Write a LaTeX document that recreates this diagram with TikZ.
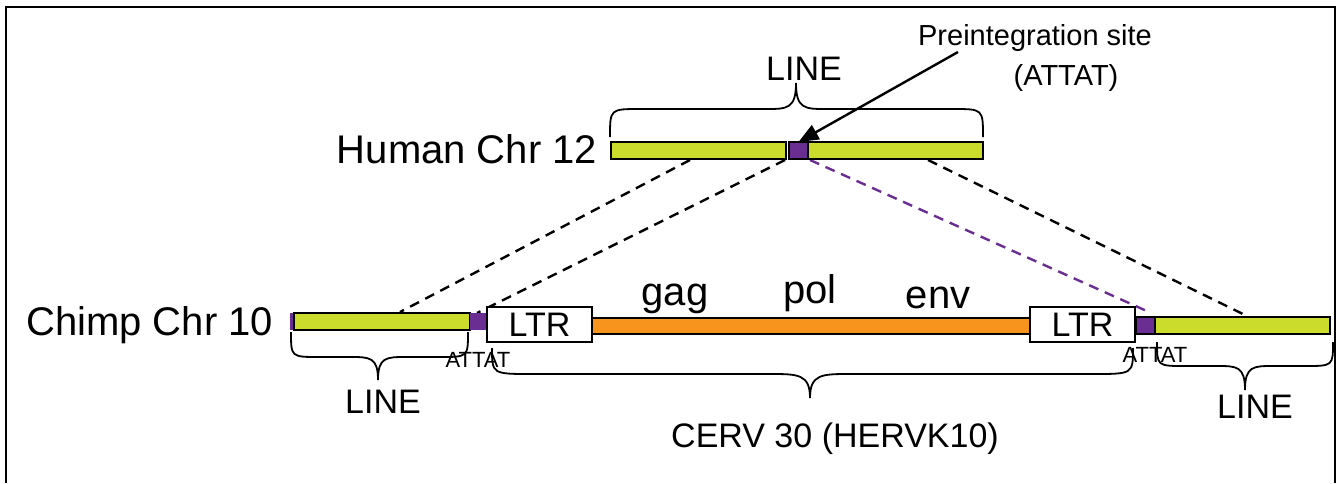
\documentclass[tikz,border=0pt]{standalone}
\usepackage{fontspec}
\setmainfont{Liberation Sans}
\usetikzlibrary{arrows.meta}
\definecolor{lgreen}{HTML}{CCDC2C}
\definecolor{vpurple}{HTML}{6A2E92}
\definecolor{orng}{HTML}{F7941E}
\newcommand\drawbrace[7]{%
  \draw[bracel] (#1,#3) .. controls (#1,#4) and (#1,#4) .. ({#1+#7},#4) -- ({#6-#7},#4)
    .. controls ({#6-0.3*#7},#4) and (#6,#4) .. (#6,#5)
    .. controls (#6,#4) and ({#6+0.3*#7},#4) .. ({#6+#7},#4) -- ({#2-#7},#4)
    .. controls (#2,#4) and (#2,#4) .. (#2,#3);}
\tikzset{
  segbox/.style={draw=black, line width=1.8pt, inner sep=0pt, outer sep=0pt},
  green/.style={segbox, fill=lgreen},
  purp/.style={segbox, fill=vpurple},
  ltrbox/.style={segbox, fill=white, font=\fontsize{34}{40}\selectfont},
  lbl/.style={inner sep=0pt, outer sep=0pt, anchor=base},
  big/.style={lbl, font=\fontsize{40}{48}\selectfont},
  mid/.style={lbl, font=\fontsize{34}{40}\selectfont},
  small/.style={lbl, font=\fontsize{22}{26}\selectfont},
  note/.style={lbl, font=\fontsize{29}{34}\selectfont},
  bracel/.style={draw=black, line width=1.8pt},
  dashl/.style={draw=black, line width=2.4pt, dash pattern=on 10pt off 7pt},
}
\begin{document}
\begin{tikzpicture}[x=1pt,y=-1pt]
\useasboundingbox (0,0) rectangle (1336,483);
% frame
\draw[line width=2pt] (6,483) -- (6,7) -- (1335,7) -- (1335,483);

% dashed connectors (behind bars)
\coordinate (h1) at (690,160);
\coordinate (h2) at (785,160);
\coordinate (h3) at (810,160);
\coordinate (h4) at (928,160);
\coordinate (c1) at (400,312);
\coordinate (c2) at (477,313);
\coordinate (c3) at (1149,312);
\coordinate (c4) at (1247,316);
\draw[dashl] (h1) -- (c1);
\draw[dashl] (h2) -- (c2);
\draw[dashl, draw=vpurple] (h3) -- (c3);
\draw[dashl] (h4) -- (c4);

% human chromosome 12
\node[green, minimum width=175pt, minimum height=17pt] (hl) at (698.5,150.5) {};
\node[green, minimum width=175pt, minimum height=17pt] (hr) at (895.5,150.5) {};
\node[purp, minimum width=19pt, minimum height=17pt] (hp) at (798.5,150.5) {};
\node[big, anchor=base east] (hlab) at (597,163) {Human Chr 12};

% chimp chromosome 10
\fill[vpurple] (290,313) rectangle (294,330);
\node[green, minimum width=176pt, minimum height=17pt] (cl) at (382,321.5) {};
\node[purp, draw=none, minimum width=17pt, minimum height=17pt] (cp) at (478.5,321.5) {};
\node[segbox, fill=orng, minimum width=438pt, minimum height=16pt] (orange) at (811,326) {};
\node[ltrbox, minimum width=105pt, minimum height=35pt] (ltrl) at (539.5,324.5) {LTR};
\node[ltrbox, minimum width=105pt, minimum height=35pt] (ltrr) at (1082.5,324.5) {LTR};
\node[purp, minimum width=19pt, minimum height=17pt] (rp) at (1145.5,325.5) {};
\node[green, minimum width=175pt, minimum height=17pt] (rg) at (1242.5,325.5) {};
\node[big, anchor=base east] (clab) at (273,335) {Chimp Chr 10};

% gene labels
\node[big] (gag) at (675,305) {gag};
\node[big] (pol) at (810,303) {pol};
\node[big] (env) at (938,308) {env};

% ATTAT labels
\node[small] (attl) at (478,367) {ATTAT};
\node[small] (attr) at (1155,362) {ATTAT};

% braces
\drawbrace{610}{983}{137}{109}{83}{796}{30}
\drawbrace{291}{468}{332}{357}{380}{378}{28}
\drawbrace{1157}{1333}{342}{366}{390}{1245}{28}
\drawbrace{492}{1133}{348}{374}{398}{810}{40}

% brace labels
\node[mid] (linetop) at (804,80) {LINE};
\node[mid] (lineleft) at (383,413) {LINE};
\node[mid] (lineright) at (1255,418) {LINE};
\node[mid] (cerv) at (835,447) {CERV 30 (HERVK10)};

% preintegration site
\node[note] (pre1) at (1035,45) {Preintegration site};
\node[note] (pre2) at (1066,85) {(ATTAT)};
\coordinate (arrs) at (958,52);
\draw[line width=2.4pt, -{Triangle[length=20pt,width=16pt]}] (arrs) -- (hp.north);
\end{tikzpicture}
\end{document}
